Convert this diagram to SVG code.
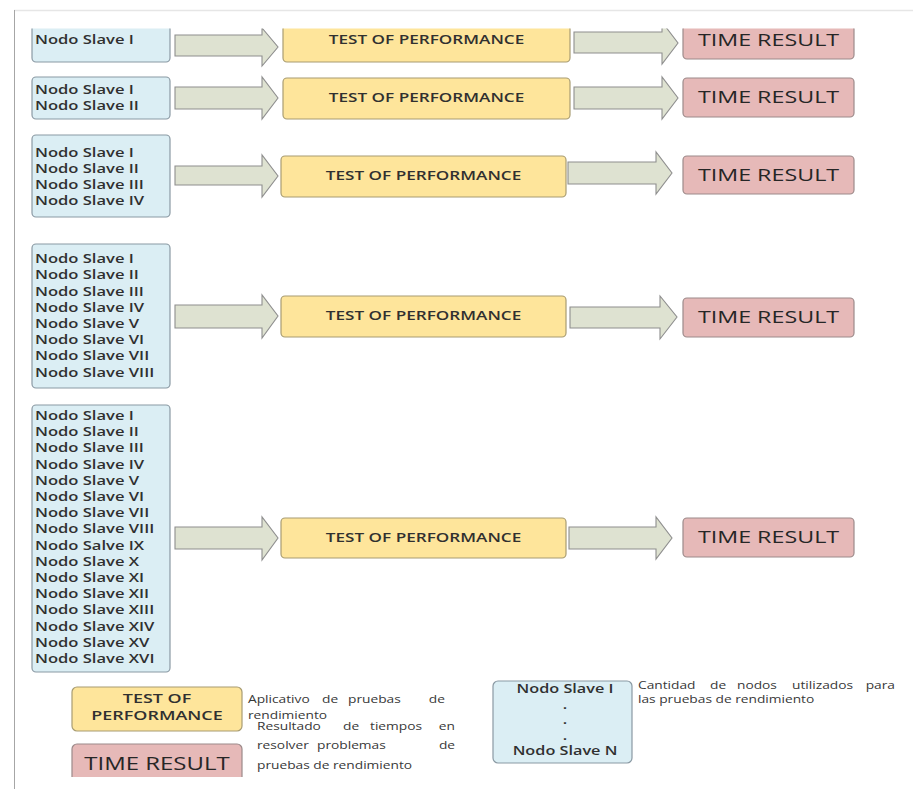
<svg xmlns="http://www.w3.org/2000/svg" width="913" height="789" viewBox="0 0 913 789">
  <style>
    .nodes { fill: #dbeef4; stroke: #8a99a3; stroke-width: 1.2; }
    .test { fill: #fee59b; stroke: #a89c72; stroke-width: 1.2; }
    .time { fill: #e6b9b8; stroke: #9c8a8a; stroke-width: 1.2; }
    .arrow { fill: #dee2d1; stroke: #8e8e8e; stroke-width: 1.1; }
    text { font-family: "Open Sans", "Liberation Sans", sans-serif; fill: #303030; }
    .nl { font-size: 12px; font-weight: 600; }
    .tp { font-size: 12px; font-weight: 600; text-anchor: middle; }
    .tr { font-size: 17px; font-weight: 400; text-anchor: middle; fill: #262626; }
    .ds { font-size: 11px; font-weight: 400; fill: #383838; }
    .end { text-anchor: end; }
  </style>
  <defs>
    <clipPath id="page">
      <rect x="15" y="28.5" width="898" height="748.5"/>
    </clipPath>
    <filter id="soft" x="-50%" y="-5%" width="200%" height="110%">
      <feGaussianBlur stdDeviation="1.2"/>
    </filter>
  </defs>

  <!-- sheet -->
  <rect width="913" height="789" fill="#ffffff"/>
  <line x1="14" y1="10.5" x2="913" y2="10.5" stroke="#e6e6e6" stroke-width="1.5"/>
  <line x1="12" y1="10" x2="12" y2="789" stroke="#c8c8c8" stroke-width="3" filter="url(#soft)"/>
  <line x1="14.5" y1="10" x2="14.5" y2="789" stroke="#a6a6a6" stroke-width="1"/>

  <g clip-path="url(#page)">
    <!-- slave node groups -->
    <g id="nodes-1">
      <rect class="nodes" x="32" y="18" width="138" height="44" rx="4"/>
      <g transform="translate(35 0) scale(1.38 1)">
        <text class="nl" x="0" y="44">Nodo Slave I</text>
      </g>
    </g>
    <g id="nodes-2">
      <rect class="nodes" x="32" y="77" width="138" height="42" rx="4"/>
      <g transform="translate(35 0) scale(1.38 1)">
        <text class="nl" x="0" y="94">Nodo Slave I</text>
        <text class="nl" x="0" y="110">Nodo Slave II</text>
      </g>
    </g>
    <g id="nodes-4">
      <rect class="nodes" x="32" y="135" width="138" height="82" rx="4"/>
      <g transform="translate(35 0) scale(1.38 1)">
        <text class="nl" x="0" y="157">Nodo Slave I</text>
        <text class="nl" x="0" y="173">Nodo Slave II</text>
        <text class="nl" x="0" y="189">Nodo Slave III</text>
        <text class="nl" x="0" y="205">Nodo Slave IV</text>
      </g>
    </g>
    <g id="nodes-8">
      <rect class="nodes" x="32" y="244" width="138" height="144" rx="4"/>
      <g transform="translate(35 0) scale(1.38 1)">
        <text class="nl" x="0" y="263.3">Nodo Slave I</text>
        <text class="nl" x="0" y="279.5">Nodo Slave II</text>
        <text class="nl" x="0" y="295.7">Nodo Slave III</text>
        <text class="nl" x="0" y="311.9">Nodo Slave IV</text>
        <text class="nl" x="0" y="328.1">Nodo Slave V</text>
        <text class="nl" x="0" y="344.3">Nodo Slave VI</text>
        <text class="nl" x="0" y="360.5">Nodo Slave VII</text>
        <text class="nl" x="0" y="376.7">Nodo Slave VIII</text>
      </g>
    </g>
    <g id="nodes-16">
      <rect class="nodes" x="32" y="405" width="138" height="267" rx="4"/>
      <g transform="translate(35 0) scale(1.38 1)">
        <text class="nl" x="0" y="420">Nodo Slave I</text>
        <text class="nl" x="0" y="436.2">Nodo Slave II</text>
        <text class="nl" x="0" y="452.4">Nodo Slave III</text>
        <text class="nl" x="0" y="468.6">Nodo Slave IV</text>
        <text class="nl" x="0" y="484.8">Nodo Slave V</text>
        <text class="nl" x="0" y="501">Nodo Slave VI</text>
        <text class="nl" x="0" y="517.2">Nodo Slave VII</text>
        <text class="nl" x="0" y="533.4">Nodo Slave VIII</text>
        <text class="nl" x="0" y="549.6">Nodo Salve IX</text>
        <text class="nl" x="0" y="565.8">Nodo Slave X</text>
        <text class="nl" x="0" y="582">Nodo Slave XI</text>
        <text class="nl" x="0" y="598.2">Nodo Slave XII</text>
        <text class="nl" x="0" y="614.4">Nodo Slave XIII</text>
        <text class="nl" x="0" y="630.6">Nodo Slave XIV</text>
        <text class="nl" x="0" y="646.8">Nodo Slave XV</text>
        <text class="nl" x="0" y="663">Nodo Slave XVI</text>
      </g>
    </g>

    <!-- performance test boxes -->
    <g id="test-1">
      <rect class="test" x="283" y="18" width="287" height="44" rx="4"/>
      <text class="tp" transform="translate(426.5 44) scale(1.43 1)">TEST OF PERFORMANCE</text>
    </g>
    <g id="test-2">
      <rect class="test" x="283" y="78" width="287" height="41" rx="4"/>
      <text class="tp" transform="translate(426.5 102) scale(1.43 1)">TEST OF PERFORMANCE</text>
    </g>
    <g id="test-3">
      <rect class="test" x="281" y="156" width="285" height="41" rx="4"/>
      <text class="tp" transform="translate(423.5 180) scale(1.43 1)">TEST OF PERFORMANCE</text>
    </g>
    <g id="test-4">
      <rect class="test" x="281" y="296" width="285" height="41" rx="4"/>
      <text class="tp" transform="translate(423.5 320) scale(1.43 1)">TEST OF PERFORMANCE</text>
    </g>
    <g id="test-5">
      <rect class="test" x="281" y="518" width="285" height="40" rx="4"/>
      <text class="tp" transform="translate(423.5 542) scale(1.43 1)">TEST OF PERFORMANCE</text>
    </g>

    <!-- time result boxes -->
    <g id="time-1">
      <rect class="time" x="683" y="18" width="171" height="41" rx="4"/>
      <text class="tr" transform="translate(768.5 46) scale(1.37 1)">TIME RESULT</text>
    </g>
    <g id="time-2">
      <rect class="time" x="683" y="78" width="171" height="39" rx="4"/>
      <text class="tr" transform="translate(768.5 103) scale(1.37 1)">TIME RESULT</text>
    </g>
    <g id="time-3">
      <rect class="time" x="683" y="156" width="171" height="38" rx="4"/>
      <text class="tr" transform="translate(768.5 181) scale(1.37 1)">TIME RESULT</text>
    </g>
    <g id="time-4">
      <rect class="time" x="683" y="298" width="171" height="39" rx="4"/>
      <text class="tr" transform="translate(768.5 323) scale(1.37 1)">TIME RESULT</text>
    </g>
    <g id="time-5">
      <rect class="time" x="683" y="518" width="171" height="39" rx="4"/>
      <text class="tr" transform="translate(768.5 543) scale(1.37 1)">TIME RESULT</text>
    </g>

    <!-- block arrows -->
    <g id="connectors">
      <path class="arrow" d="M175,35 H262 V28 L278,47 L262,66 V56 H175 Z"/>
      <path class="arrow" d="M574,32 H662 V22 L678,43 L662,64 V53 H574 Z"/>
      <path class="arrow" d="M175,87 H262 V77 L278,98 L262,119 V109 H175 Z"/>
      <path class="arrow" d="M574,87 H662 V77 L678,98 L662,119 V109 H574 Z"/>
      <path class="arrow" d="M175,166 H262 V155 L278,176 L262,197 V185 H175 Z"/>
      <path class="arrow" d="M568,162 H656 V152 L672,173 L656,194 V184 H568 Z"/>
      <path class="arrow" d="M175,305 H262 V295 L278,316 L262,338 V328 H175 Z"/>
      <path class="arrow" d="M570,307 H660 V296 L677,317 L660,339 V328 H570 Z"/>
      <path class="arrow" d="M175,527 H262 V517 L278,538 L262,560 V549 H175 Z"/>
      <path class="arrow" d="M569,527 H656 V517 L672,538 L656,559 V549 H569 Z"/>
    </g>

    <!-- legend: descriptions are justified, set word by word in a widened frame -->
    <g id="legend-test">
      <rect class="test" x="72" y="687" width="170" height="44" rx="5"/>
      <text class="tp" style="font-size:13px" transform="translate(157 703) scale(1.38 1)">TEST OF</text>
      <text class="tp" style="font-size:13px" transform="translate(157 720) scale(1.38 1)">PERFORMANCE</text>
      <g transform="scale(1.25 1)">
        <text class="ds" y="703"><tspan x="198.4">Aplicativo</tspan><tspan x="257.6">de</tspan><tspan x="278.4">pruebas</tspan></text>
        <text class="ds end" x="356" y="703">de</text>
        <text class="ds" x="198.4" y="719">rendimiento</text>
      </g>
    </g>
    <g id="legend-time">
      <rect class="time" x="72" y="744" width="170" height="44" rx="5"/>
      <text class="tr" style="font-size:17.5px" transform="translate(157 770) scale(1.37 1)">TIME RESULT</text>
      <g transform="scale(1.25 1)">
        <text class="ds" y="730"><tspan x="205.6">Resultado</tspan><tspan x="274.4">de</tspan><tspan x="296">tiempos</tspan></text>
        <text class="ds end" x="364" y="730">en</text>
        <text class="ds" y="749"><tspan x="205.6">resolver</tspan><tspan x="253.6">problemas</tspan></text>
        <text class="ds end" x="364" y="749">de</text>
        <text class="ds" x="205.6" y="769">pruebas de rendimiento</text>
      </g>
    </g>
    <g id="legend-nodes">
      <rect class="nodes" x="493" y="681" width="139" height="82" rx="5"/>
      <g transform="translate(565 0) scale(1.3 1)">
        <text class="tp" style="font-size:12.5px" x="0" y="693">Nodo Slave I</text>
        <text class="tp" style="font-size:12.5px" x="0" y="709">.</text>
        <text class="tp" style="font-size:12.5px" x="0" y="724">.</text>
        <text class="tp" style="font-size:12.5px" x="0" y="740">.</text>
        <text class="tp" style="font-size:12.5px" x="0" y="755">Nodo Slave N</text>
      </g>
      <g transform="scale(1.25 1)">
        <text class="ds" y="689"><tspan x="510.4">Cantidad</tspan><tspan x="568">de</tspan><tspan x="589.6">nodos</tspan><tspan x="633.6">utilizados</tspan></text>
        <text class="ds end" x="716" y="689">para</text>
        <text class="ds" x="510.4" y="703">las pruebas de rendimiento</text>
      </g>
    </g>
  </g>
</svg>
